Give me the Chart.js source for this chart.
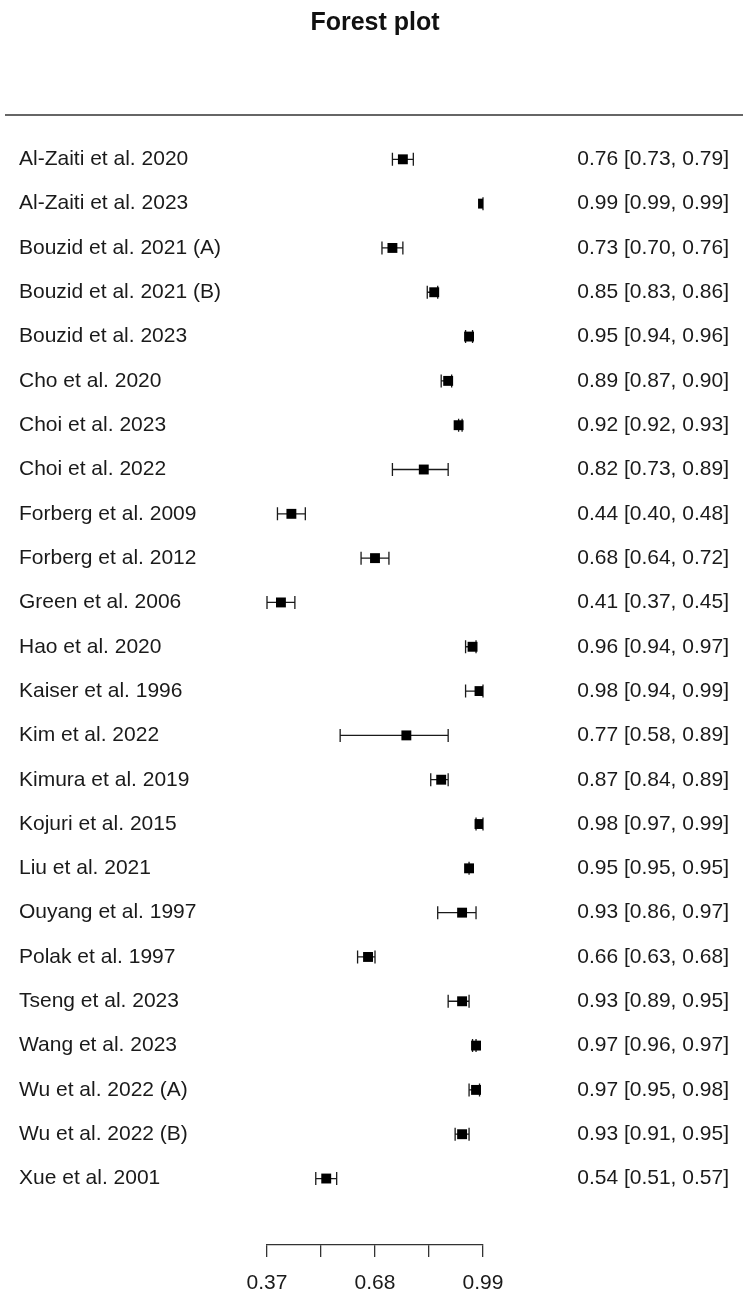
<!DOCTYPE html>
<html lang="en">

<head>
    <meta charset="UTF-8" />
    <title>Forest plot</title>
    <style>
        html, body { margin: 0; padding: 0; background: #fff; }
    </style>
</head>

<body>
    <canvas id="myChart" width="747" height="1296"></canvas>

    <script src="https://cdn.jsdelivr.net/npm/chart.js"></script>
    <script>
        // studies, top to bottom
        const studies = [
            'Al-Zaiti et al. 2020', 'Al-Zaiti et al. 2023', 'Bouzid et al. 2021 (A)', 'Bouzid et al. 2021 (B)',
            'Bouzid et al. 2023', 'Cho et al. 2020', 'Choi et al. 2023', 'Choi et al. 2022',
            'Forberg et al. 2009', 'Forberg et al. 2012', 'Green et al. 2006', 'Hao et al. 2020',
            'Kaiser et al. 1996', 'Kim et al. 2022', 'Kimura et al. 2019', 'Kojuri et al. 2015',
            'Liu et al. 2021', 'Ouyang et al. 1997', 'Polak et al. 1997', 'Tseng et al. 2023',
            'Wang et al. 2023', 'Wu et al. 2022 (A)', 'Wu et al. 2022 (B)', 'Xue et al. 2001'
        ];
        const estimate = [0.76, 0.99, 0.73, 0.85, 0.95, 0.89, 0.92, 0.82, 0.44, 0.68, 0.41, 0.96,
                          0.98, 0.77, 0.87, 0.98, 0.95, 0.93, 0.66, 0.93, 0.97, 0.97, 0.93, 0.54];
        const lower    = [0.73, 0.99, 0.70, 0.83, 0.94, 0.87, 0.92, 0.73, 0.40, 0.64, 0.37, 0.94,
                          0.94, 0.58, 0.84, 0.97, 0.95, 0.86, 0.63, 0.89, 0.96, 0.95, 0.91, 0.51];
        const upper    = [0.79, 0.99, 0.76, 0.86, 0.96, 0.90, 0.93, 0.89, 0.48, 0.72, 0.45, 0.97,
                          0.99, 0.89, 0.89, 0.99, 0.95, 0.97, 0.68, 0.95, 0.97, 0.98, 0.95, 0.57];
        const tickVals = [0.37, 0.525, 0.68, 0.835, 0.99];
        const tickLabels = ['0.37', '', '0.68', '', '0.99'];

        const FONT = "'Liberation Sans', Arial, sans-serif";
        const INK = '#1a1a1a';

        const points = estimate.map((v, i) => ({ x: v, y: i }));

        // whiskers drawn under the squares
        const errorBars = {
            id: 'errorBars',
            beforeDatasetsDraw(chart) {
                const ctx = chart.ctx, xs = chart.scales.x, ys = chart.scales.y;
                ctx.save();
                ctx.strokeStyle = INK;
                ctx.lineWidth = 1.3;
                for (let i = 0; i < estimate.length; i++) {
                    const y = ys.getPixelForValue(i);
                    const x1 = xs.getPixelForValue(lower[i]);
                    const x2 = xs.getPixelForValue(upper[i]);
                    ctx.beginPath();
                    ctx.moveTo(x1, y); ctx.lineTo(x2, y);
                    ctx.moveTo(x1, y - 6.5); ctx.lineTo(x1, y + 6.5);
                    ctx.moveTo(x2, y - 6.5); ctx.lineTo(x2, y + 6.5);
                    ctx.stroke();
                }
                ctx.restore();
            }
        };

        // study names, CI text and the top rule
        const sideText = {
            id: 'sideText',
            afterDraw(chart) {
                const ctx = chart.ctx, ys = chart.scales.y, area = chart.chartArea;
                ctx.save();
                ctx.fillStyle = INK;
                ctx.font = '21px ' + FONT;
                ctx.textBaseline = 'middle';
                for (let i = 0; i < studies.length; i++) {
                    const y = ys.getPixelForValue(i);
                    ctx.textAlign = 'left';
                    ctx.fillText(studies[i], 19, y);
                    ctx.textAlign = 'right';
                    const txt = estimate[i].toFixed(2) + ' [' + lower[i].toFixed(2) + ', ' + upper[i].toFixed(2) + ']';
                    ctx.fillText(txt, 729, y);
                }
                ctx.strokeStyle = '#333';
                ctx.lineWidth = 1.6;
                ctx.beginPath();
                ctx.moveTo(5, area.top);
                ctx.lineTo(743, area.top);
                ctx.stroke();
                ctx.restore();
            }
        };

        const config = {
            type: 'scatter',
            data: {
                datasets: [{
                    data: points,
                    pointStyle: 'rect',
                    pointRadius: 7,
                    backgroundColor: '#000',
                    borderColor: '#000',
                    borderWidth: 0
                }]
            },
            options: {
                responsive: false,
                animation: false,
                layout: { padding: { left: 267, right: 264, top: 0, bottom: 3 } },
                plugins: {
                    legend: { display: false },
                    tooltip: { enabled: false },
                    title: {
                        display: true,
                        text: 'Forest plot',
                        color: '#111',
                        font: { family: FONT, size: 25, weight: 'bold' },
                        padding: { top: 8, bottom: 77 }
                    }
                },
                scales: {
                    x: {
                        type: 'linear',
                        min: 0.37,
                        max: 0.99,
                        afterBuildTicks: axis => { axis.ticks = tickVals.map(v => ({ value: v })); },
                        afterFit: axis => { axis.height = 48; },
                        ticks: {
                            autoSkip: false,
                            maxRotation: 0,
                            padding: 14,
                            color: INK,
                            font: { family: FONT, size: 21 },
                            callback: (v, idx) => tickLabels[idx]
                        },
                        grid: { drawOnChartArea: false, drawTicks: true, tickLength: 12, color: '#333', lineWidth: 1.3 },
                        border: { display: true, color: '#333', width: 1.3 }
                    },
                    y: {
                        type: 'linear',
                        display: false,
                        reverse: true,
                        min: -1,
                        max: 24.5
                    }
                }
            },
            plugins: [errorBars, sideText]
        };

        const myChart = new Chart(document.getElementById('myChart'), config);
    </script>
</body>

</html>
